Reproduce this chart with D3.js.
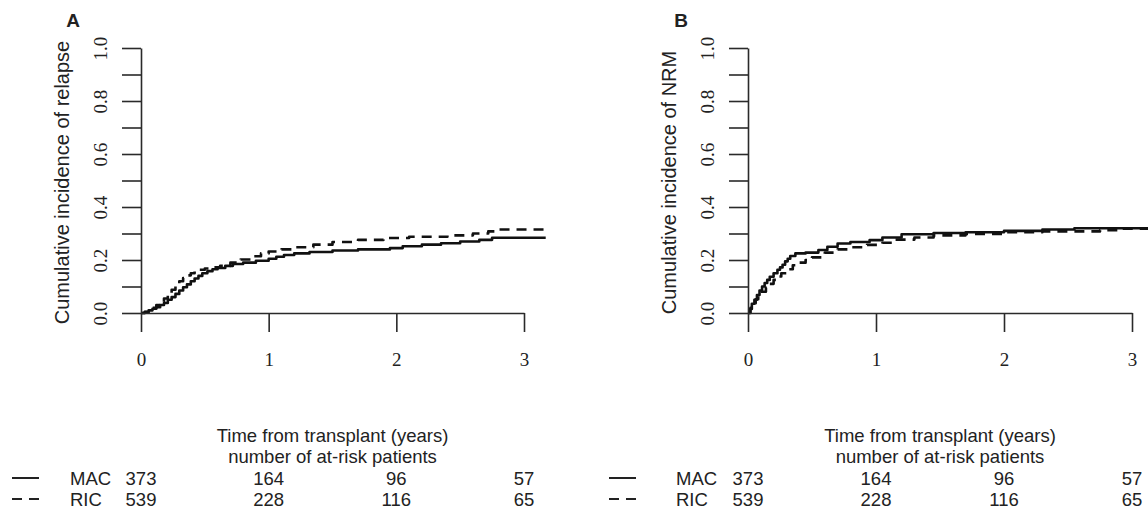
<!DOCTYPE html>
<html>
<head>
<meta charset="utf-8">
<script src="https://cdnjs.cloudflare.com/ajax/libs/d3/7.8.5/d3.min.js"></script>
<style>
  body { margin: 0; background: #fff; }
  svg { display: block; }
  .sans { font-family: "Liberation Sans", Arial, sans-serif; fill: #222; }
  .serif { font-family: "Liberation Serif", "Times New Roman", serif; fill: #222; }
</style>
</head>
<body>
<div id="chart"></div>
<script>
// years shown on the x axis and the at-risk table
const years = [0, 1, 2, 3];
const yTicks = [0, 0.1, 0.2, 0.3, 0.4, 0.5, 0.6, 0.7, 0.8, 0.9, 1.0];
const yLabels = ["0.0", "", "0.2", "", "0.4", "", "0.6", "", "0.8", "", "1.0"];
const groups = ["MAC", "RIC"];
const atRiskMAC = [373, 164, 96, 57];
const atRiskRIC = [539, 228, 116, 65];

// cumulative incidence: [years, incidence]
const relapseMAC = [
  [0, 0], [0.03, 0.004], [0.06, 0.01], [0.09, 0.016], [0.12, 0.022],
  [0.15, 0.03], [0.18, 0.038], [0.21, 0.05], [0.24, 0.06], [0.27, 0.072],
  [0.3, 0.085], [0.33, 0.097], [0.36, 0.108], [0.39, 0.12], [0.42, 0.13],
  [0.45, 0.14], [0.48, 0.15], [0.52, 0.158], [0.56, 0.165], [0.6, 0.17],
  [0.66, 0.178], [0.72, 0.185], [0.8, 0.19], [0.9, 0.197], [1.0, 0.205],
  [1.06, 0.212], [1.12, 0.219], [1.2, 0.225], [1.32, 0.23], [1.5, 0.236],
  [1.7, 0.24], [1.95, 0.245], [2.05, 0.252], [2.2, 0.258], [2.35, 0.263],
  [2.5, 0.27], [2.65, 0.276], [2.75, 0.284], [3.17, 0.284]
];
const relapseRIC = [
  [0, 0], [0.03, 0.005], [0.06, 0.012], [0.09, 0.02], [0.12, 0.03],
  [0.15, 0.042], [0.18, 0.055], [0.21, 0.07], [0.24, 0.088], [0.27, 0.105],
  [0.3, 0.12], [0.33, 0.132], [0.36, 0.142], [0.39, 0.15], [0.42, 0.157],
  [0.46, 0.163], [0.5, 0.168], [0.56, 0.172], [0.62, 0.178], [0.7, 0.19],
  [0.78, 0.202], [0.86, 0.214], [0.94, 0.225], [1.0, 0.232], [1.1, 0.24],
  [1.2, 0.248], [1.35, 0.258], [1.5, 0.268], [1.7, 0.276], [1.9, 0.283],
  [2.1, 0.288], [2.4, 0.293], [2.6, 0.3], [2.72, 0.308], [2.78, 0.315],
  [3.17, 0.315]
];
const nrmMAC = [
  [0, 0], [0.01, 0.015], [0.03, 0.035], [0.05, 0.05], [0.07, 0.068],
  [0.09, 0.085], [0.11, 0.1], [0.13, 0.113], [0.15, 0.125], [0.17, 0.137],
  [0.2, 0.15], [0.23, 0.163], [0.25, 0.172], [0.27, 0.182], [0.29, 0.195],
  [0.31, 0.205], [0.33, 0.215], [0.37, 0.225], [0.45, 0.228], [0.55, 0.238],
  [0.62, 0.25], [0.7, 0.262], [0.8, 0.268], [0.95, 0.275], [1.05, 0.285],
  [1.2, 0.297], [1.45, 0.302], [1.7, 0.305], [2.0, 0.31], [2.3, 0.315],
  [2.55, 0.32], [3.13, 0.32]
];
const nrmRIC = [
  [0, 0], [0.02, 0.02], [0.04, 0.037], [0.06, 0.052], [0.08, 0.065],
  [0.11, 0.08], [0.14, 0.095], [0.17, 0.11], [0.2, 0.125], [0.23, 0.138],
  [0.26, 0.15], [0.3, 0.165], [0.35, 0.18], [0.4, 0.19], [0.45, 0.2],
  [0.5, 0.21], [0.6, 0.228], [0.7, 0.24], [0.8, 0.248], [0.93, 0.257],
  [1.05, 0.265], [1.15, 0.277], [1.3, 0.285], [1.45, 0.293], [1.7, 0.298],
  [2.0, 0.305], [2.3, 0.308], [2.75, 0.312], [2.9, 0.318], [3.13, 0.318]
];

const W = 1148, H = 510;
const DASH = "10,7";

let svg = d3.select("#chart").append("svg")
  .attr("width", W).attr("height", H);

drawPanel({
  letter: "A", letterX: 73, x0: 141, x3: 524, legendX: 12, groupX: 70,
  title: "Cumulative incidence of relapse", series: [relapseMAC, relapseRIC]
});
drawPanel({
  letter: "B", letterX: 681, x0: 748, x3: 1132, legendX: 609, groupX: 676,
  title: "Cumulative incidence of NRM", series: [nrmMAC, nrmRIC]
});

function drawPanel(p) {
  let g = svg.append("g");

  let x = d3.scaleLinear().domain([0, 3]).range([p.x0, p.x3]);
  let y = d3.scaleLinear().domain([0, 1]).range([313, 48]);

  // step curves
  let line = d3.line()
    .x(d => x(d[0])).y(d => y(d[1]))
    .curve(d3.curveStepAfter);

  p.series.forEach(function(data, i) {
    g.append("path")
      .datum(data)
      .attr("d", line)
      .attr("fill", "none")
      .attr("stroke", "#111")
      .attr("stroke-width", 2.6)
      .attr("stroke-linejoin", "round")
      .attr("stroke-dasharray", i == 1 ? DASH : null);
  });

  // y axis with rotated labels, R style
  let yAxis = g.append("g")
    .attr("transform", `translate(${p.x0},0)`)
    .call(d3.axisLeft(y).tickValues(yTicks).tickSize(19).tickSizeOuter(0)
      .tickFormat((d, i) => yLabels[i]));
  yAxis.selectAll(".tick text")
    .attr("class", "serif")
    .attr("font-size", 19)
    .attr("text-anchor", "middle")
    .attr("transform", "rotate(-90)")
    .attr("x", 0).attr("y", -34).attr("dy", null);

  let xAxis = g.append("g")
    .attr("transform", `translate(0,313)`)
    .call(d3.axisBottom(x).tickValues(years).tickSize(19).tickSizeOuter(0)
      .tickFormat(d3.format("d")));
  xAxis.selectAll(".tick text")
    .attr("class", "serif")
    .attr("font-size", 19)
    .attr("y", 53).attr("dy", null);

  g.selectAll(".domain, .tick line")
    .attr("stroke", "#2a2a2a").attr("stroke-width", 1.6);

  // titles
  g.append("text").attr("class", "sans")
    .attr("x", p.letterX).attr("y", 27)
    .attr("text-anchor", "middle")
    .attr("font-size", 19).attr("font-weight", "bold")
    .text(p.letter);

  g.append("text").attr("class", "sans")
    .attr("transform", `translate(${p.x0 - 72},${y(0.5) + 2}) rotate(-90)`)
    .attr("text-anchor", "middle")
    .attr("font-size", 20)
    .text(p.title);

  let mid = (x(0) + x(3)) / 2;
  g.append("text").attr("class", "sans")
    .attr("x", mid).attr("y", 442)
    .attr("text-anchor", "middle").attr("font-size", 18.5)
    .text("Time from transplant (years)");
  g.append("text").attr("class", "sans")
    .attr("x", mid).attr("y", 463)
    .attr("text-anchor", "middle").attr("font-size", 18.5)
    .text("number of at-risk patients");

  // at-risk table
  let rows = [atRiskMAC, atRiskRIC];
  let rowY = [485, 506];
  rows.forEach(function(counts, i) {
    g.append("line")
      .attr("x1", p.legendX).attr("x2", p.legendX + 27)
      .attr("y1", rowY[i] - 7).attr("y2", rowY[i] - 7)
      .attr("stroke", "#222").attr("stroke-width", 2)
      .attr("stroke-dasharray", i == 1 ? "10,7" : null);
    g.append("text").attr("class", "sans")
      .attr("x", p.groupX).attr("y", rowY[i])
      .attr("font-size", 18.5)
      .text(groups[i]);
    g.selectAll(null).data(counts).enter()
      .append("text").attr("class", "sans")
      .attr("x", (d, j) => x(years[j])).attr("y", rowY[i])
      .attr("text-anchor", "middle").attr("font-size", 18.5)
      .text(d => d);
  });
}
</script>
</body>
</html>
